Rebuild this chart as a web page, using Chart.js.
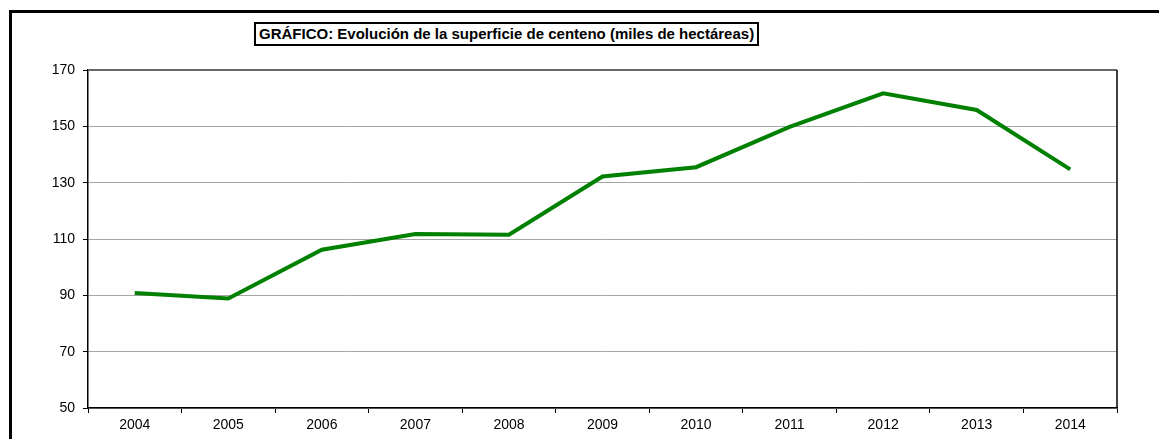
<!DOCTYPE html>
<html lang="es">
<head>
    <meta charset="UTF-8">
    <title>Evolución de la superficie de centeno</title>
    <script src="https://cdn.jsdelivr.net/npm/chart.js"></script>
    <style>
    body {
        margin: 0;
        background: #fff;
        font-family: "Liberation Sans", Arial, sans-serif;
    }
    .wrap {
        position: relative;
        width: 1159px;
        height: 439px;
        overflow: hidden;
    }
    .frame {
        position: absolute;
        left: 9px;
        top: 10px;
        width: 1300px;
        height: 600px;
        border: 3px solid #000;
    }
    .titulo {
        position: absolute;
        left: 254px;
        top: 22px;
        padding: 1px 3px;
        border: 2px solid #000;
        font-weight: bold;
        font-size: 15px;
        line-height: 18px;
        color: #000;
        background: #fff;
        white-space: nowrap;
    }
    canvas {
        position: absolute;
        left: 0;
        top: 0;
    }
</style>
</head>
<body>
    <div class="wrap">
        <div class="frame"></div>
        <canvas id="grafico" width="1159" height="439"></canvas>
        <div class="titulo">GRÁFICO: Evolución de la superficie de centeno (miles de hectáreas)</div>
    </div>

    <script>
        // datos
        const anios = ['2004', '2005', '2006', '2007', '2008', '2009', '2010', '2011', '2012', '2013', '2014'];
        const superficie = [90.8, 88.9, 106.2, 111.8, 111.5, 132.2, 135.5, 149.8, 161.7, 155.8, 134.7];
        const ejeY = { min: 50, max: 170, paso: 20 };

        // borde del área de trazado (derecha negra, arriba gris oscuro)
        const bordeArea = {
            id: 'bordeArea',
            afterDraw(chart) {
                const a = chart.chartArea;
                const ctx = chart.ctx;
                ctx.save();
                ctx.strokeStyle = '#666';
                ctx.lineWidth = 2;
                ctx.beginPath();
                ctx.moveTo(a.left, a.top);
                ctx.lineTo(a.right, a.top);
                ctx.stroke();
                ctx.strokeStyle = '#000';
                ctx.lineWidth = 1.5;
                ctx.beginPath();
                ctx.moveTo(a.right, a.top);
                ctx.lineTo(a.right, a.bottom);
                ctx.stroke();
                ctx.restore();
            }
        };

        const fuente = { family: '"Liberation Sans", Arial, sans-serif', size: 14 };

        new Chart(document.getElementById('grafico'), {
            type: 'line',
            data: {
                labels: anios,
                datasets: [{
                    data: superficie,
                    borderColor: '#008000',
                    borderWidth: 4,
                    pointRadius: 0,
                    tension: 0,
                    fill: false
                }]
            },
            options: {
                responsive: false,
                animation: false,
                layout: { padding: { left: 0, top: 70, right: 42, bottom: 0 } },
                plugins: {
                    legend: { display: false },
                    title: { display: false },
                    tooltip: { enabled: false }
                },
                scales: {
                    x: {
                        offset: true,
                        grid: {
                            offset: true,
                            drawOnChartArea: false,
                            tickLength: 5,
                            color: '#000',
                            tickColor: '#000'
                        },
                        border: { color: '#000', width: 1.5 },
                        ticks: { color: '#000', font: fuente, padding: 4, maxRotation: 0 },
                        afterFit(scale) { scale.height = 31; }
                    },
                    y: {
                        min: ejeY.min,
                        max: ejeY.max,
                        grid: {
                            color: '#a6a6a6',
                            lineWidth: 1,
                            tickLength: 5,
                            tickColor: '#000'
                        },
                        border: { color: '#000', width: 1.5 },
                        ticks: { stepSize: ejeY.paso, color: '#000', font: fuente, padding: 8 },
                        afterFit(scale) { scale.width = 88; }
                    }
                }
            },
            plugins: [bordeArea]
        });
    </script>
</body>
</html>
